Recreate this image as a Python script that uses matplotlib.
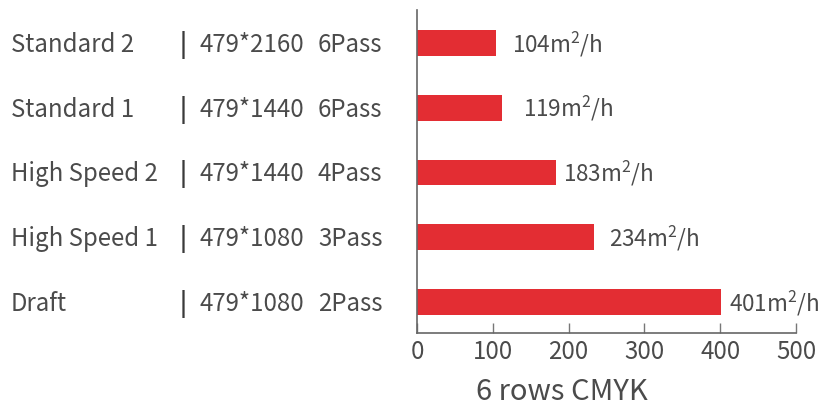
import matplotlib
matplotlib.use("Agg")
import matplotlib.pyplot as plt
import matplotlib.transforms as mtransforms

# Data (bottom to top)
modes = ["Draft", "High Speed 1", "High Speed 2", "Standard 1", "Standard 2"]
resolutions = ["479*1080", "479*1080", "479*1440", "479*1440", "479*2160"]
passes = ["2Pass", "3Pass", "4Pass", "6Pass", "6Pass"]
bar_values = [401, 234, 183, 112, 104]
label_values = [401, 234, 183, 119, 104]
label_gaps_px = [8, 15, 7, 21, 16]  # style: gap between bar end and label

x_ticks = [0, 100, 200, 300, 400, 500]
x_label = "6 rows CMYK"

W, H = 829, 408
TEXT = "#4b4b4b"
RED = "#e32d33"
FONT = "Noto Sans CJK SC"
FS = 17.3

plt.rcParams['font.family'] = [FONT, 'DejaVu Sans']
plt.rcParams['mathtext.fontset'] = 'custom'
plt.rcParams['mathtext.rm'] = FONT
plt.rcParams['mathtext.it'] = FONT
plt.rcParams['mathtext.bf'] = FONT

fig = plt.figure(figsize=(W / 100, H / 100), dpi=100)
ax = fig.add_axes([417 / W, (H - 333) / H, (796 - 417) / W, (333 - 10) / H])

ypos = list(range(len(modes)))
ax.barh(ypos, bar_values, height=0.4, color=RED, zorder=2)

ax.set_xlim(0, 500)
ax.set_ylim(-0.48, 4.51)
ax.set_xticks(x_ticks)
ax.set_xticklabels([str(t) for t in x_ticks], fontsize=FS, color=TEXT)
ax.tick_params(axis='x', direction='in', length=7, width=1, color="#777777", pad=4)
ax.set_yticks([])
for s in ["top", "right"]:
    ax.spines[s].set_visible(False)
for s in ["left", "bottom"]:
    ax.spines[s].set_color("#666666")
    ax.spines[s].set_linewidth(1.2)

# x label (offset left of center as in reference)
fig.text(476 / W, 1 - 400 / H, x_label, ha='left', va='baseline', fontsize=21, color=TEXT)

# left side labels
blend = mtransforms.blended_transform_factory(fig.transFigure, ax.transData)
base = mtransforms.offset_copy(blend, fig=fig, x=0, y=-9, units='dots')
for y, m, r, p in zip(ypos, modes, resolutions, passes):
    fig.text(11 / W, y, m, transform=base, ha='left', va='baseline', fontsize=FS, color=TEXT)
    fig.text(183.5 / W, y, "|", transform=base, ha='center', va='baseline', fontsize=FS,
             color="#3a3a3a", fontweight='bold')
    fig.text(200 / W, y, r, transform=base, ha='left', va='baseline', fontsize=FS, color=TEXT)
    fig.text(318 / W, y, p, transform=base, ha='left', va='baseline', fontsize=FS, color=TEXT)

# value labels
for y, bv, lv, g in zip(ypos, bar_values, label_values, label_gaps_px):
    ax.annotate(f"{lv}m$^{{2}}$/h", xy=(bv, y), xytext=(g * 72 / 100, -9 * 72 / 100),
                textcoords='offset points', ha='left', va='baseline',
                fontsize=16.2, color=TEXT, annotation_clip=False)

fig.savefig("out.png", dpi=100)
